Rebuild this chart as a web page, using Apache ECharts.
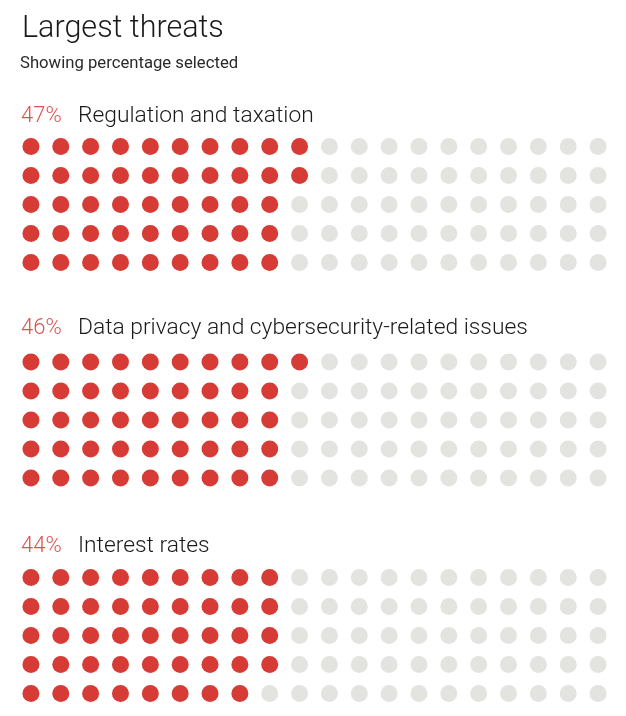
<!DOCTYPE html>
<html><head><meta charset="utf-8">
<script src="https://cdn.jsdelivr.net/npm/echarts@6/dist/echarts.min.js"></script>
<style>html,body{margin:0;padding:0;background:#fff}#c{width:626px;height:716px}</style>
</head><body><div id="c"></div>
<script>
const categories = ['Regulation and taxation', 'Data privacy and cybersecurity-related issues', 'Interest rates'];
const percentages = [47, 46, 44];
const ROWS = 5, COLS = 20;
const RED = '#d63b36', GREY = '#e3e3df';

const gridTops = [132, 347.5, 563];
const chart = echarts.init(document.getElementById('c'));
const grids = [], xAxes = [], yAxes = [], series = [], graphics = [];
const labelY = [114.5, 326, 544];

categories.forEach((cat, g) => {
  grids.push({left: 16, width: 597, top: gridTops[g], height: 145});
  xAxes.push({type: 'value', gridIndex: g, min: -0.5, max: 19.5, show: false});
  yAxes.push({type: 'value', gridIndex: g, min: -0.5, max: 4.5, inverse: true, show: false});
  const data = [];
  for (let c = 0; c < COLS; c++) {
    for (let r = 0; r < ROWS; r++) {
      const idx = c * ROWS + r;
      data.push({value: [c, r], itemStyle: {color: idx < percentages[g] ? RED : GREY, opacity: 1}});
    }
  }
  series.push({type: 'scatter', xAxisIndex: g, yAxisIndex: g, symbol: 'circle', symbolSize: 17, data, silent: true, animation: false, itemStyle: {opacity: 1}});
  graphics.push({type: 'text', left: 21, top: labelY[g] - 9, style: {text: percentages[g] + '%', fill: '#d9534f', font: '300 22px Roboto'}});
  graphics.push({type: 'text', left: 78, top: labelY[g] - 9.5, style: {text: cat, fill: '#1a1a1a', font: '300 22.8px Roboto'}});
});
graphics.push({type: 'text', left: 22, top: 14, style: {text: 'Largest threats', fill: '#1a1a1a', font: '300 30.5px Roboto'}});
graphics.push({type: 'text', left: 20, top: 55, style: {text: 'Showing percentage selected', fill: '#2a2a2a', font: '400 16.7px Roboto'}});

chart.setOption({
  animation: false,
  grid: grids, xAxis: xAxes, yAxis: yAxes, series, graphic: graphics
});
</script></body></html>
